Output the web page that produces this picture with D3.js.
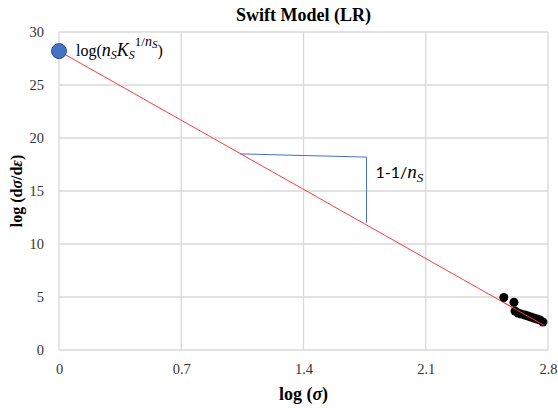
<!DOCTYPE html>
<html>
<head>
<meta charset="utf-8">
<script src="https://cdn.jsdelivr.net/npm/d3@7"></script>
<style>
body { margin: 0; background: #fff; }
svg { display: block; }
</style>
</head>
<body>
<svg width="558" height="408"></svg>
<script>
// data
var xTicks = [0, 0.7, 1.4, 2.1, 2.8];
var yTicks = [0, 5, 10, 15, 20, 25, 30];

var intercept = [{ x: 0, y: 28.2 }];
var fitLine = [{ x: 0, y: 28.2 }, { x: 2.78, y: 2.3 }];

var logSigma = [2.547, 2.605, 2.611, 2.628, 2.645, 2.668, 2.685, 2.702, 2.719, 2.737, 2.754, 2.771];
var logRate = [4.95, 4.5, 3.68, 3.49, 3.40, 3.30, 3.21, 3.11, 3.02, 2.92, 2.83, 2.64];

var slopeMark = [{ x: 1.038, y: 18.5 }, { x: 1.761, y: 18.2 }, { x: 1.761, y: 12.0 }];

var svg = d3.select("svg"),
	margin = { top: 32, right: 10, bottom: 58, left: 59 },
	width = +svg.attr("width") - margin.left - margin.right,
	height = +svg.attr("height") - margin.top - margin.bottom,
	g = svg.append("g").attr("transform", "translate(" + margin.left + "," + margin.top + ")");

var x = d3.scaleLinear().domain([0, 2.8]).range([0, width]);
var y = d3.scaleLinear().domain([0, 30]).range([height, 0]);

// grid
g.append("g")
	.selectAll("line")
	.data(xTicks)
	.enter().append("line")
	.attr("x1", function (d) { return x(d); })
	.attr("x2", function (d) { return x(d); })
	.attr("y1", 0)
	.attr("y2", height)
	.attr("stroke", "#d9d9d9")
	.attr("stroke-width", 1.3);

g.append("g")
	.selectAll("line")
	.data(yTicks)
	.enter().append("line")
	.attr("x1", 0)
	.attr("x2", width)
	.attr("y1", function (d) { return y(d); })
	.attr("y2", function (d) { return y(d); })
	.attr("stroke", "#d9d9d9")
	.attr("stroke-width", 1.3);

// axes (labels only, the lines come from the grid)
var xAxis = g.append("g")
	.attr("transform", "translate(0," + height + ")")
	.call(d3.axisBottom(x).tickValues(xTicks).tickSize(0).tickPadding(14).tickFormat(d3.format("")));
var yAxis = g.append("g")
	.call(d3.axisLeft(y).tickValues(yTicks).tickSize(0).tickPadding(15));

[xAxis, yAxis].forEach(function (a) {
	a.select(".domain").remove();
	a.selectAll("text")
		.attr("font-family", "Liberation Serif, serif")
		.attr("font-size", 14.5)
		.attr("fill", "#333");
});

// fit line
var line = d3.line()
	.x(function (d) { return x(d.x); })
	.y(function (d) { return y(d.y); });

g.append("path")
	.datum(fitLine)
	.attr("d", line)
	.attr("fill", "none")
	.attr("stroke", "#ff3b3b")
	.attr("stroke-width", 1);

// measured points
var pts = logSigma.map(function (v, i) { return { x: v, y: logRate[i] }; });

g.append("g")
	.selectAll("circle")
	.data(pts)
	.enter().append("circle")
	.attr("cx", function (d) { return x(d.x); })
	.attr("cy", function (d) { return y(d.y); })
	.attr("r", 4.5)
	.attr("fill", "#000");

// red line drawn again on top of the cluster
g.append("path")
	.datum(fitLine.map(function (d, i) { return i == 0 ? { x: 2.55, y: 28.2 - (28.2 - 2.3) / 2.78 * 2.55 } : d; }))
	.attr("d", line)
	.attr("fill", "none")
	.attr("stroke", "#ff3b3b")
	.attr("stroke-width", 1);

// intercept marker
g.selectAll(".icpt")
	.data(intercept)
	.enter().append("circle")
	.attr("cx", function (d) { return x(d.x); })
	.attr("cy", function (d) { return y(d.y); })
	.attr("r", 7.5)
	.attr("fill", "#4472c4")
	.attr("stroke", "#2f528f")
	.attr("stroke-width", 1);

// slope triangle
g.append("path")
	.datum(slopeMark)
	.attr("d", line)
	.attr("fill", "none")
	.attr("stroke", "#4472c4")
	.attr("stroke-width", 1);

// annotations
var lbl = g.append("text")
	.attr("x", x(0) + 17)
	.attr("y", y(28.2) + 5)
	.attr("font-family", "Liberation Serif, serif")
	.attr("font-size", 16)
	.attr("fill", "#000");
lbl.append("tspan").text("log(");
lbl.append("tspan").attr("font-style", "italic").attr("font-size", 18).text("n");
lbl.append("tspan").attr("font-style", "italic").attr("font-size", 12).attr("dy", 3).text("S");
lbl.append("tspan").attr("font-style", "italic").attr("font-size", 18).attr("dy", -3).text("K");
lbl.append("tspan").attr("font-style", "italic").attr("font-size", 12).attr("dy", 3).text("S");
lbl.append("tspan").attr("font-size", 13).attr("dy", -13).text("1/");
lbl.append("tspan").attr("font-style", "italic").attr("font-size", 14).text("n");
lbl.append("tspan").attr("font-style", "italic").attr("font-size", 11).attr("dy", 2).text("S");
lbl.append("tspan").attr("dy", 8).text(")");

var sl = g.append("text")
	.attr("x", x(1.761) + 9)
	.attr("y", y(16.2))
	.attr("font-family", "Lato, sans-serif")
	.attr("font-size", 16)
	.attr("fill", "#000");
sl.append("tspan").text("1-1/");
sl.append("tspan").attr("font-family", "Liberation Serif, serif").attr("font-style", "italic").attr("font-size", 19).text("n");
sl.append("tspan").attr("font-family", "Liberation Serif, serif").attr("font-style", "italic").attr("font-size", 13).attr("dy", 4).text("S");

// titles
svg.append("text")
	.attr("x", margin.left + width / 2)
	.attr("y", 21)
	.attr("text-anchor", "middle")
	.attr("font-family", "Liberation Serif, serif")
	.attr("font-weight", "bold")
	.attr("font-size", 18)
	.text("Swift Model (LR)");

var xl = svg.append("text")
	.attr("x", margin.left + width / 2)
	.attr("y", 400)
	.attr("text-anchor", "middle")
	.attr("font-family", "Liberation Serif, serif")
	.attr("font-weight", "bold")
	.attr("font-size", 18);
xl.append("tspan").text("log (");
xl.append("tspan").attr("font-style", "italic").text("σ");
xl.append("tspan").text(")");

var yl = svg.append("text")
	.attr("transform", "translate(22," + (margin.top + height / 2) + ") rotate(-90)")
	.attr("text-anchor", "middle")
	.attr("font-family", "Liberation Serif, serif")
	.attr("font-weight", "bold")
	.attr("font-size", 16);
yl.append("tspan").text("log (d");
yl.append("tspan").attr("font-style", "italic").text("σ");
yl.append("tspan").text("/d");
yl.append("tspan").attr("font-style", "italic").text("ε");
yl.append("tspan").text(")");
</script>
</body>
</html>
